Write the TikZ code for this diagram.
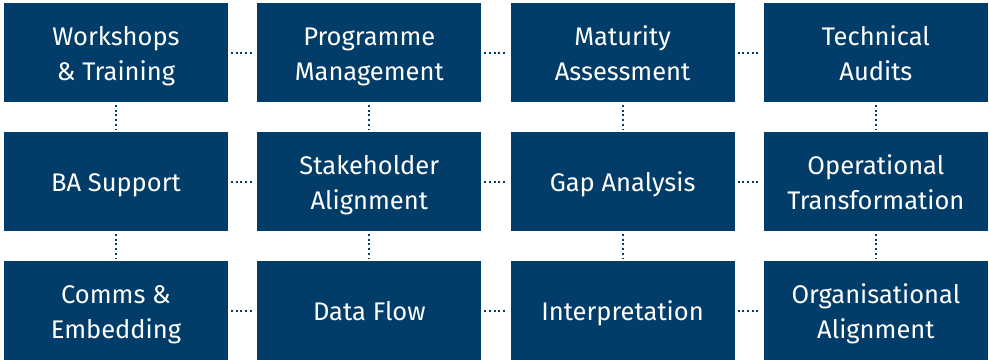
\documentclass[tikz,border=0pt]{standalone}
\usepackage{fontspec}
\setmainfont{Fira Sans}
\usetikzlibrary{matrix}
\definecolor{tileblue}{HTML}{013D68}
\newcommand{\tiletext}[1]{\raisebox{-3.5pt}[\height][\depth]{\begin{tabular}{@{}c@{}}#1\end{tabular}}}

\begin{document}
\begin{tikzpicture}[x=1pt,y=-1pt,
grid/.style={matrix of nodes,nodes={fill=tileblue, text=white, minimum
    width=224pt, minimum height=99pt, inner sep=0pt, anchor=center,
    font=\fontsize{25.5}{34.5}\selectfont}, column sep=29.3pt, row sep=30pt,
    inner sep=0pt, outer sep=0pt},
link/.style={draw=tileblue, line width=2pt, dash pattern=on 2pt off 2.7pt,
    shorten <=3pt, shorten >=3pt}]
\useasboundingbox (0,0) rectangle (989,360);
\matrix[grid, anchor=north west] (grid) at (4,3) {
\tiletext{Workshops\\\& Training} & \tiletext{Programme\\Management} & \tiletext{Maturity\\Assessment} & \tiletext{Technical\\Audits}\\
\tiletext{BA Support} & \tiletext{Stakeholder\\Alignment} & \tiletext{Gap Analysis} & \tiletext{Operational\\Transformation}\\
\tiletext{Comms \&\\Embedding} & \tiletext{Data Flow} & \tiletext{Interpretation} & \tiletext{Organisational\\Alignment}\\};
% across
\draw[link] (grid-1-1) -- (grid-1-2);
\draw[link] (grid-1-2) -- (grid-1-3);
\draw[link] (grid-1-3) -- (grid-1-4);
\draw[link] (grid-2-1) -- (grid-2-2);
\draw[link] (grid-2-2) -- (grid-2-3);
\draw[link] (grid-2-3) -- (grid-2-4);
\draw[link] (grid-3-1) -- (grid-3-2);
\draw[link] (grid-3-2) -- (grid-3-3);
\draw[link] (grid-3-3) -- (grid-3-4);
% down
\draw[link] (grid-1-1) -- (grid-2-1);
\draw[link] (grid-1-2) -- (grid-2-2);
\draw[link] (grid-1-3) -- (grid-2-3);
\draw[link] (grid-1-4) -- (grid-2-4);
\draw[link] (grid-2-1) -- (grid-3-1);
\draw[link] (grid-2-2) -- (grid-3-2);
\draw[link] (grid-2-3) -- (grid-3-3);
\draw[link] (grid-2-4) -- (grid-3-4);
\end{tikzpicture}
\end{document}
